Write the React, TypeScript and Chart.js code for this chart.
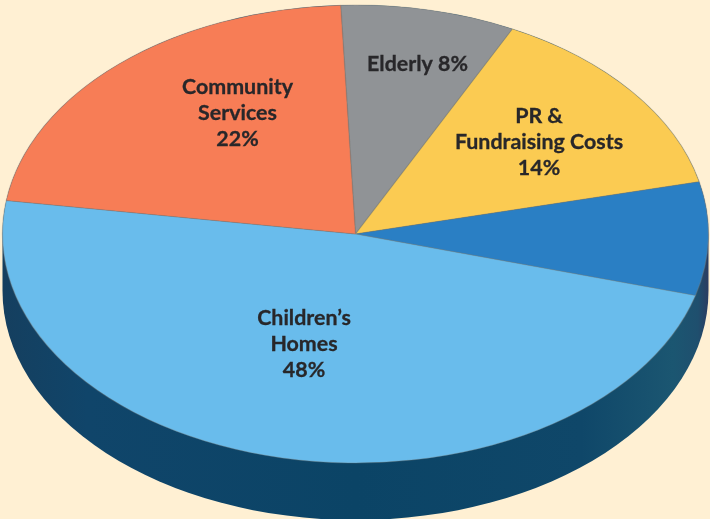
import React, { useEffect, useRef } from "react";
import { Chart, registerables } from "chart.js";

Chart.register(...registerables);

const categories = ["Elderly", "PR & Fundraising Costs", "Other", "Children's Homes", "Community Services"];
const shares = [8, 14, 8, 48, 22];
const sliceColors = ["#909396", "#FBCB52", "#2A7FC4", "#69BCEC", "#F77D56"];
const labelLines = [["Elderly 8%"], ["PR &", "Fundraising Costs", "14%"], [], ["Children’s", "Homes", "48%"], ["Community", "Services", "22%"]];

const BG = "#FFF0D3";
const W = 710;
const H = 519;
const CX = 355.5;
const CY = 234;
const RX = 353;
const RY = 229;
const DEPTH = 57;
const labelOffsets = [[62, -170], [183.5, -91.5], [0, 0], [-51.5, 110.5], [-118, -120.5]];

const tiltPlugin = {
  id: "tilt",
  beforeDatasetsDraw(chart: any) {
    const arc = chart.getDatasetMeta(0).data[0];
    const { ctx } = chart;
    const R = arc.outerRadius;
    ctx.save();
    const g = ctx.createLinearGradient(CX - RX, 0, CX + RX, 0);
    g.addColorStop(0, "#153F5F");
    g.addColorStop(0.12, "#10456A");
    g.addColorStop(0.5, "#0B4466");
    g.addColorStop(0.82, "#0F4769");
    g.addColorStop(0.95, "#1B5671");
    g.addColorStop(0.985, "#1F4F6E");
    g.addColorStop(1, "#2C3C60");
    ctx.fillStyle = g;
    ctx.beginPath();
    ctx.ellipse(CX, CY + DEPTH, RX, RY, 0, 0, Math.PI);
    ctx.lineTo(CX - RX, CY);
    ctx.ellipse(CX, CY, RX, RY, 0, Math.PI, 2 * Math.PI);
    ctx.lineTo(CX + RX, CY + DEPTH);
    ctx.closePath();
    ctx.fill();
    ctx.translate(CX, CY);
    ctx.scale(RX / R, RY / R);
    ctx.translate(-arc.x, -arc.y);
  },
  afterDatasetsDraw(chart: any) {
    const { ctx } = chart;
    ctx.restore();
    ctx.save();
    ctx.fillStyle = "#28272A";
    ctx.strokeStyle = "#28272A";
    ctx.lineWidth = 0.3;
    ctx.font = "bold 21.4px Lato";
    ctx.textAlign = "center";
    ctx.textBaseline = "middle";
    labelLines.forEach((lines, i) => {
      const [dx, dy] = labelOffsets[i];
      lines.forEach((line, j) => {
        const y = CY + dy + (j - (lines.length - 1) / 2) * 26;
        ctx.fillText(line, CX + dx, y);
        ctx.strokeText(line, CX + dx, y);
      });
    });
    ctx.restore();
  },
};

export default function App() {
  const ref = useRef<HTMLCanvasElement | null>(null);
  useEffect(() => {
    document.body.style.margin = "0";
    document.body.style.background = BG;
    const chart = new Chart(ref.current!, {
      type: "pie",
      data: {
        labels: categories,
        datasets: [
          {
            data: shares,
            backgroundColor: sliceColors,
            borderColor: "rgba(125,125,120,0.35)",
            borderWidth: 1,
            clip: false,
          } as any,
        ],
      },
      options: {
        responsive: false,
        animation: false,
        rotation: -2.4,
        layout: { padding: 0 },
        plugins: { legend: { display: false }, tooltip: { enabled: false } },
      },
      plugins: [tiltPlugin],
    });
    return () => chart.destroy();
  }, []);
  return <canvas ref={ref} width={W} height={H} style={{ display: "block", width: W, height: H, background: BG }} />;
}
